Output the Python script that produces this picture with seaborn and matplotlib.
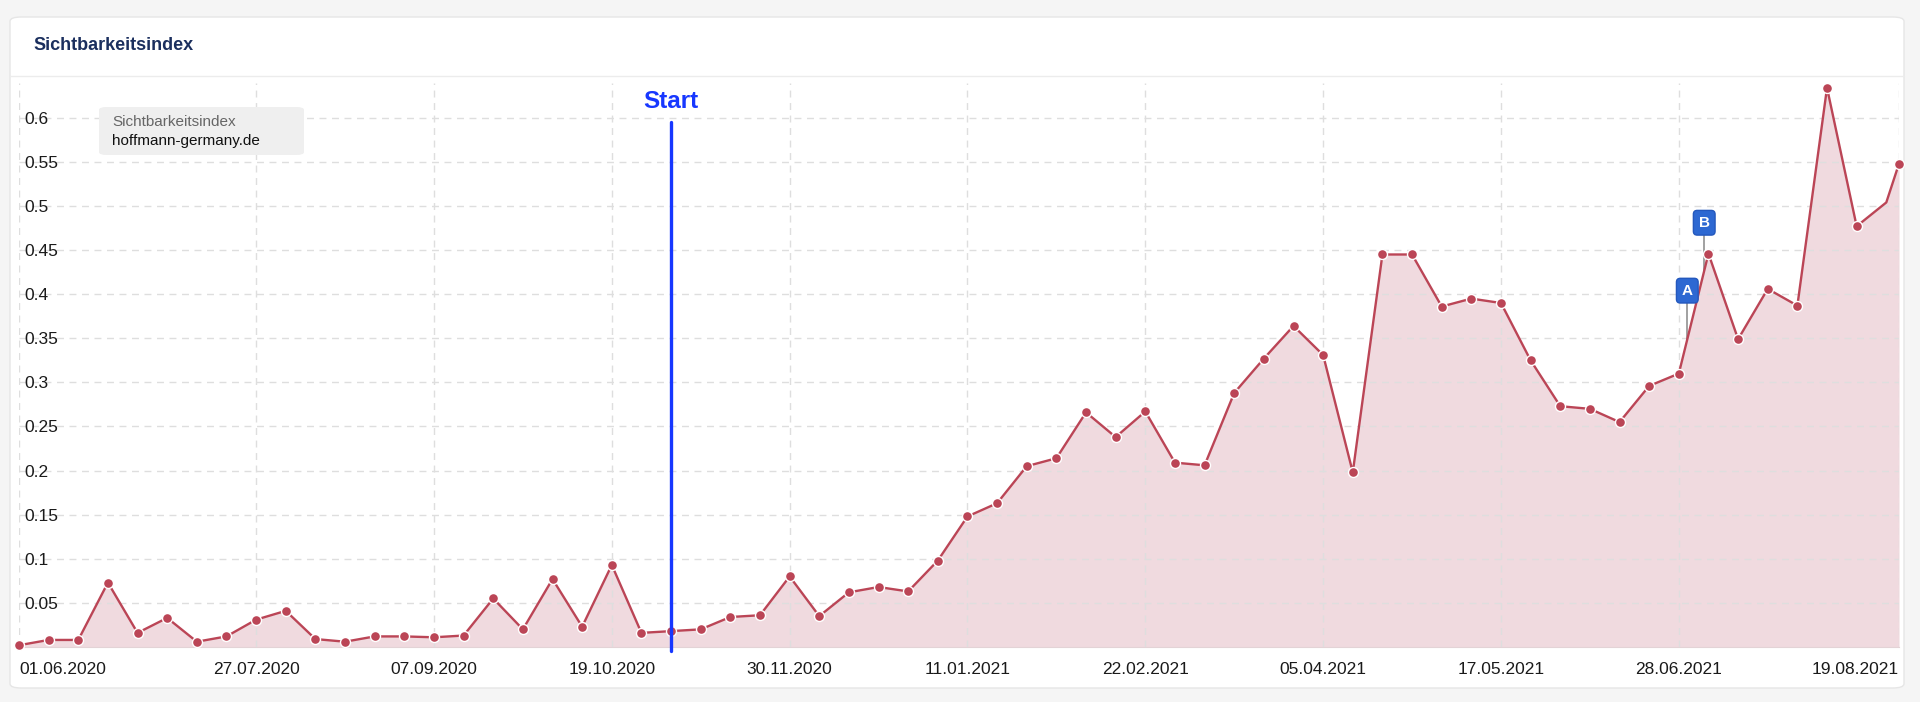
import pandas as pd
import numpy as np
import seaborn as sns
import matplotlib.pyplot as plt
from matplotlib.patches import FancyBboxPatch
from matplotlib.lines import Line2D

# Daten: woechentlicher Sichtbarkeitsindex (Montag), letzter Wert tagesaktuell
weeks = pd.date_range('2020-06-01', periods=64, freq='7D')
dates = list(weeks) + [pd.Timestamp('2021-08-19')]
values = [0.002, 0.008, 0.008, 0.073, 0.016, 0.033, 0.006, 0.012, 0.031, 0.041,
          0.009, 0.006, 0.012, 0.012, 0.011, 0.013, 0.055, 0.020, 0.077, 0.023,
          0.093, 0.016, 0.018, 0.020, 0.034, 0.036, 0.080, 0.035, 0.062, 0.068,
          0.063, 0.098, 0.148, 0.163, 0.205, 0.214, 0.266, 0.238, 0.267, 0.209,
          0.206, 0.288, 0.327, 0.364, 0.331, 0.198, 0.445, 0.445, 0.386, 0.395,
          0.390, 0.325, 0.273, 0.270, 0.255, 0.296, 0.310, 0.446, 0.349, 0.406,
          0.387, 0.634, 0.477, 0.504, 0.548]

tick_labels = ['01.06.2020', '27.07.2020', '07.09.2020', '19.10.2020', '30.11.2020',
               '11.01.2021', '22.02.2021', '05.04.2021', '17.05.2021', '28.06.2021',
               '19.08.2021']
y_ticks = [0.05, 0.1, 0.15, 0.2, 0.25, 0.3, 0.35, 0.4, 0.45, 0.5, 0.55, 0.6]

start_date = pd.Timestamp('2020-11-02')
events = ['A', 'B']
event_dates = [pd.Timestamp('2021-06-30'), pd.Timestamp('2021-07-04')]
event_levels = [0.404, 0.481]

df = pd.DataFrame({'date': dates, 'value': values})

sns.set_style('white')
plt.rcParams['font.family'] = ['Liberation Sans', 'DejaVu Sans']

W, H = 1920, 702
fig = plt.figure(figsize=(W / 100, H / 100), dpi=100)
fig.patch.set_facecolor('#f5f5f5')

# Karte
card = FancyBboxPatch((10 / W, 1 - 688 / H), 1894 / W, 671 / H,
                      boxstyle='round,pad=0,rounding_size=0.006',
                      transform=fig.transFigure, fc='white', ec='#e6e6e6',
                      lw=1, zorder=-2)
fig.add_artist(card)
fig.add_artist(Line2D([10 / W, 1904 / W], [1 - 76 / H, 1 - 76 / H],
                      transform=fig.transFigure, color='#ececec', lw=1, zorder=-1))
fig.text(33 / W, 1 - 46 / H, 'Sichtbarkeitsindex', fontsize=13, fontweight='bold',
         color='#1b2f5e', va='center', ha='left')

ax = fig.add_axes([19 / W, 1 - 647 / H, 1880 / W, (647 - 82.5) / H])
ax.set_facecolor('none')

line_color = '#bb4556'
fill_color = '#f0dadf'

ax.fill_between(df['date'], df['value'], 0, color=fill_color, lw=0, zorder=1)
marks = [i for i in range(len(values)) if i != len(values) - 2]
sns.lineplot(data=df, x='date', y='value', ax=ax, color=line_color, lw=1.7,
             marker='o', markersize=7.2, markeredgecolor='white', markeredgewidth=1,
             markevery=marks, errorbar=None, clip_on=False, zorder=4)

ax.set_xlim(pd.Timestamp('2020-06-01'), pd.Timestamp('2021-08-19'))
ax.set_ylim(0, 0.64)

tick_dates = pd.to_datetime(tick_labels, format='%d.%m.%Y')
ax.set_xticks(tick_dates)
ax.set_xticklabels(tick_labels)
ax.set_yticks(y_ticks)
ax.set_yticklabels([f'{t:g}' for t in y_ticks])

ax.grid(True, color='#dedede', linestyle=(0, (5, 4)), lw=1)
ax.set_axisbelow(False)
for gl in ax.get_xgridlines() + ax.get_ygridlines():
    gl.set_zorder(2)

ax.tick_params(axis='x', length=0, pad=11, labelsize=12.5, labelcolor='#1a1a1a')
ax.tick_params(axis='y', length=0, pad=-4, labelsize=12.5, labelcolor='#1a1a1a')
for lab in ax.get_yticklabels():
    lab.set_horizontalalignment('left')
xl = ax.get_xticklabels()
xl[0].set_horizontalalignment('left')
xl[-1].set_horizontalalignment('right')

for s in ['top', 'left', 'right']:
    ax.spines[s].set_visible(False)
ax.spines['bottom'].set_color('#e3d3d6')
ax.set_xlabel('')
ax.set_ylabel('')

# Start-Markierung
ax.plot([start_date, start_date], [-0.005, 0.595], color='#1737ff', lw=2.4,
        clip_on=False, zorder=5)
ax.text(start_date, 0.619, 'Start', ha='center', va='center', fontsize=17.5,
        fontweight='bold', color='#1737ff', clip_on=False)

# Ereignisse A / B
num_dates = pd.to_datetime(df['date']).map(pd.Timestamp.toordinal).values
for name, d, lvl in zip(events, event_dates, event_levels):
    y_line = np.interp(d.toordinal(), num_dates, values)
    ax.plot([d, d], [y_line, lvl - 0.014], color='#9a9a9a', lw=1.3, zorder=3)
    ax.text(d, lvl, name, ha='center', va='center', fontsize=11, fontweight='bold',
            color='white', zorder=6,
            bbox=dict(boxstyle='round,pad=0.35,rounding_size=0.25', fc='#2d68d2',
                      ec='#2458bd', lw=1))

# Legende oben links
legend_box = FancyBboxPatch((99 / W, 1 - 155 / H), 205 / W, 48 / H,
                            boxstyle='round,pad=0,rounding_size=0.004',
                            transform=fig.transFigure, fc='#efefef', ec='none', zorder=3)
fig.add_artist(legend_box)
fig.text(112 / W, 1 - 122 / H, 'Sichtbarkeitsindex', fontsize=11, color='#666666',
         va='center', ha='left', zorder=4)
fig.text(112 / W, 1 - 141 / H, 'hoffmann-germany.de', fontsize=11, color='#111111',
         va='center', ha='left', zorder=4)

fig.savefig('out.png', dpi=100, facecolor=fig.get_facecolor())
